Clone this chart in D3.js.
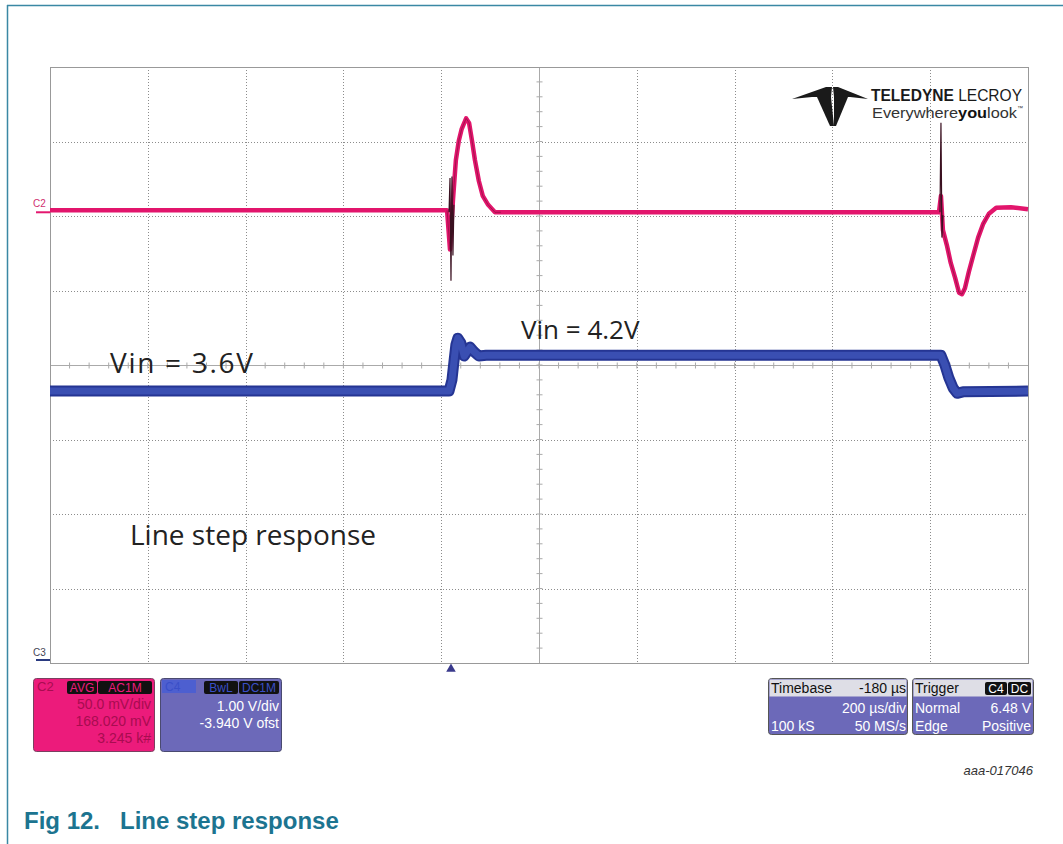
<!DOCTYPE html>
<html>
<head>
<meta charset="utf-8">
<script src="https://cdn.jsdelivr.net/npm/d3@7"></script>
<style>
  body { margin: 0; background: #fff; }
  svg { display: block; font-family: "Liberation Sans", Arial, sans-serif; }
</style>
</head>
<body>
<div id="scope"></div>
<script>
// timebase: 200 us/div, trigger delay -180 us, 10 divisions
const timeDiv = 200;
const timeDelay = -180;

// C2 (pink), AC coupled, mV, 50 mV/div
const c2Time = [-820, -8, -2, 4, 10, 16, 22, 31, 37, 43, 49, 57, 65, 76, 90, 102,
  998, 1002, 1006, 1014, 1022, 1031, 1039, 1045, 1051, 1059, 1068, 1078, 1088, 1100, 1115, 1145, 1180];
const c2Volt = [1.3, 1.3, -25, 8, 35, 48, 56, 63, 60, 48, 35, 21, 11, 5, 0, 0,
  0, 11, -12, -22, -34, -44, -54, -55, -51, -40, -29, -17, -8, -1, 3, 3.4, 2];
// thin dark overshoot spikes on C2
const c2SpikeTime = [-4, -2, 0, 2, 4, 6, 1000, 1002, 1004, 1006];
const c2SpikeVolt = [0, 23, -46, 24, -29, 5, 0, 60, -17, -2];

// C4 (blue), V, 1 V/div, -3.94 V offset
const c4Time = [-820, -4, 2, 6, 10, 14, 20, 27, 33, 39, 47, 57, 72, 1002, 1010, 1018, 1027, 1035, 1047, 1180];
const c4Volt = [3.59, 3.59, 3.74, 3.98, 4.21, 4.30, 4.24, 4.06, 4.12, 4.18, 4.12, 4.06, 4.07, 4.07, 3.94, 3.77, 3.63, 3.56, 3.58, 3.59];

const c2VDiv = 0.05 * 1000, c2Pos = 2.05;
const c4VDiv = 1.0, c4Ofst = -3.94;

const width = 1063, height = 844;
const svg = d3.select("#scope").append("svg")
  .attr("width", width).attr("height", height);

// page frame
svg.append("line").attr("x1", 7.5).attr("x2", 7.5).attr("y1", 5).attr("y2", height)
  .attr("stroke", "#3a88a4").attr("stroke-width", 1.5);
svg.append("line").attr("x1", 7).attr("x2", width).attr("y1", 5.5).attr("y2", 5.5)
  .attr("stroke", "#3a88a4").attr("stroke-width", 1.5);

const pLeft = 50, pRight = 1028, pTop = 67, pBottom = 663;
const center = -timeDelay;
const x = d3.scaleLinear().domain([center - 5 * timeDiv, center + 5 * timeDiv]).range([pLeft, pRight]);
const y = d3.scaleLinear().domain([-4, 4]).range([pBottom, pTop]);

// grid
const grid = svg.append("g");
const vTicks = d3.range(1, 10).map(i => center - 5 * timeDiv + i * timeDiv).filter(t => t !== center);
const hTicks = [-3, -2, -1, 1, 2, 3];
grid.selectAll(".vg").data(vTicks).enter().append("line")
  .attr("x1", d => Math.round(x(d)) + 0.5).attr("x2", d => Math.round(x(d)) + 0.5)
  .attr("y1", pTop).attr("y2", pBottom)
  .attr("stroke", "#8c8c8c").attr("stroke-dasharray", "1,2");
grid.selectAll(".hg").data(hTicks).enter().append("line")
  .attr("x1", pLeft).attr("x2", pRight)
  .attr("y1", d => Math.round(y(d)) + 0.5).attr("y2", d => Math.round(y(d)) + 0.5)
  .attr("stroke", "#8c8c8c").attr("stroke-dasharray", "1,2");

// center axes with minor ticks
const cx = Math.round(x(center)) + 0.5, cy = Math.round(y(0)) + 0.5;
grid.append("line").attr("x1", cx).attr("x2", cx).attr("y1", pTop).attr("y2", pBottom).attr("stroke", "#aaa");
grid.append("line").attr("x1", pLeft).attr("x2", pRight).attr("y1", cy).attr("y2", cy).attr("stroke", "#aaa");
const minorX = d3.range(1, 50).map(i => center - 5 * timeDiv + i * timeDiv / 5);
const minorY = d3.range(1, 40).map(i => -4 + i / 5);
grid.selectAll(".mx").data(minorX).enter().append("line")
  .attr("x1", d => x(d)).attr("x2", d => x(d)).attr("y1", cy - 3).attr("y2", cy + 3).attr("stroke", "#aaa");
grid.selectAll(".my").data(minorY).enter().append("line")
  .attr("x1", cx - 3).attr("x2", cx + 3).attr("y1", d => y(d)).attr("y2", d => y(d)).attr("stroke", "#aaa");

grid.append("rect").attr("x", pLeft + 0.5).attr("y", pTop + 0.5)
  .attr("width", pRight - pLeft).attr("height", pBottom - pTop)
  .attr("fill", "none").attr("stroke", "#999");

// texts on the screen
const annot = svg.append("g").attr("font-family", "'Open Sans', Lato, sans-serif").attr("fill", "#222");
annot.append("text").attr("x", 110).attr("y", 373).attr("font-size", 28).attr("textLength", 143).text("Vin = 3.6V");
annot.append("text").attr("x", 521).attr("y", 339).attr("font-size", 26).text("Vin = 4.2V");
annot.append("text").attr("x", 130).attr("y", 545).attr("font-size", 28).text("Line step response");

// traces
const line = d3.line().x(d => x(d[0])).y(d => y(d[1]));
const c2 = c2Time.map((t, i) => [t, c2Pos + c2Volt[i] / c2VDiv]);
const c2s = c2SpikeTime.map((t, i) => [t, c2Pos + c2SpikeVolt[i] / c2VDiv]);
const c4 = c4Time.map((t, i) => [t, c4Volt[i] / c4VDiv + c4Ofst]);

svg.append("path").attr("d", line(c4)).attr("fill", "none")
  .attr("stroke", "#253593").attr("stroke-width", 11).attr("stroke-linejoin", "round");
svg.append("path").attr("d", line(c4)).attr("fill", "none")
  .attr("stroke", "#3a4fb2").attr("stroke-width", 7).attr("stroke-linejoin", "round");
svg.append("path").attr("d", line(c2)).attr("fill", "none")
  .attr("stroke", "#e2156c").attr("stroke-width", 4.5).attr("stroke-linejoin", "round");
svg.append("path").attr("d", line(c2.slice(1, 16))).attr("fill", "none")
  .attr("stroke", "#7a1038").attr("stroke-width", 1).attr("opacity", 0.6);
svg.append("path").attr("d", line(c2.slice(17, 30))).attr("fill", "none")
  .attr("stroke", "#7a1038").attr("stroke-width", 1).attr("opacity", 0.6);
svg.append("path").attr("d", line(c2s.slice(0, 6))).attr("fill", "none")
  .attr("stroke", "#3a1020").attr("stroke-width", 1.2);
svg.append("path").attr("d", line(c2s.slice(6))).attr("fill", "none")
  .attr("stroke", "#3a1020").attr("stroke-width", 1.2);

// channel markers on the left
svg.append("text").attr("x", 33).attr("y", 207).attr("font-size", 10).attr("fill", "#d0306f").text("C2");
svg.append("line").attr("x1", 36).attr("x2", pLeft).attr("y1", y(c2Pos)).attr("y2", y(c2Pos))
  .attr("stroke", "#e3186f").attr("stroke-width", 2);
svg.append("text").attr("x", 33).attr("y", 656).attr("font-size", 10).attr("fill", "#445").text("C3");
svg.append("line").attr("x1", 36).attr("x2", pLeft).attr("y1", 660).attr("y2", 660)
  .attr("stroke", "#2a3a80").attr("stroke-width", 2);

// trigger marker
svg.append("path").attr("d", d3.symbol(d3.symbolTriangle, 40)())
  .attr("transform", `translate(${x(0)},669)`).attr("fill", "#3a3a8c");

// logo
const logo = svg.append("g").attr("fill", "#1a1a1a");
logo.append("polygon").attr("points", "792,99 826,87 832,87 831,97 812,97");
logo.append("polygon").attr("points", "868,99 838,87 833,87 834,97 850,97");
logo.append("polygon").attr("points", "817,97 831,97 834,126 830,126");
logo.append("polygon").attr("points", "834,97 848,97 836,126 834,126");
const lt = logo.append("text").attr("x", 871).attr("y", 101).attr("font-size", 16)
  .attr("textLength", 151).attr("lengthAdjust", "spacingAndGlyphs");
lt.append("tspan").attr("font-weight", "bold").text("TELEDYNE ");
lt.append("tspan").text("LECROY");
const ev = logo.append("text").attr("x", 872).attr("y", 118).attr("font-size", 14)
  .attr("fill", "#333").attr("textLength", 145).attr("lengthAdjust", "spacingAndGlyphs");
ev.append("tspan").text("Everywhere");
ev.append("tspan").attr("font-weight", "bold").attr("fill", "#111").text("you");
ev.append("tspan").text("look");
logo.append("text").attr("x", 1017).attr("y", 110).attr("font-size", 6).attr("fill", "#333").text("™");

// info boxes
function tag(g, x0, y0, w, label, fill) {
  g.append("rect").attr("x", x0).attr("y", y0).attr("width", w).attr("height", 13).attr("rx", 2).attr("fill", "#111");
  g.append("text").attr("x", x0 + w / 2).attr("y", y0 + 11).attr("text-anchor", "middle")
    .attr("font-size", 12).attr("fill", fill).text(label);
}
const info = svg.append("g").attr("font-size", 14);

// C2 box
info.append("rect").attr("x", 33.5).attr("y", 678.5).attr("width", 121).attr("height", 73).attr("rx", 3)
  .attr("fill", "#ec1b7b").attr("stroke", "#7a4060");
info.append("text").attr("x", 37).attr("y", 691).attr("fill", "#a80c50").attr("font-size", 13).text("C2");
tag(info, 67, 681, 30, "AVG", "#ec1b7b");
tag(info, 98, 681, 54, "AC1M", "#ec1b7b");
["50.0 mV/div", "168.020 mV", "3.245 k#"].forEach((s, i) =>
  info.append("text").attr("x", 151).attr("y", 709 + i * 17).attr("text-anchor", "end")
    .attr("fill", "#a80c50").text(s));

// C4 box
info.append("rect").attr("x", 160.5).attr("y", 678.5).attr("width", 121).attr("height", 73).attr("rx", 3)
  .attr("fill", "#6c69b9").attr("stroke", "#4a4a70");
info.append("rect").attr("x", 162).attr("y", 680).attr("width", 34).attr("height", 13).attr("fill", "#4d5fd0");
info.append("text").attr("x", 165).attr("y", 691).attr("fill", "#3a4fc8").attr("font-size", 12).text("C4");
tag(info, 204, 681, 34, "BwL", "#3a4fc8");
tag(info, 239, 681, 40, "DC1M", "#3a4fc8");
["1.00 V/div", "-3.940 V ofst"].forEach((s, i) =>
  info.append("text").attr("x", 279).attr("y", 711 + i * 17).attr("text-anchor", "end")
    .attr("fill", "#fff").text(s));

// timebase box
info.append("rect").attr("x", 768.5).attr("y", 678.5).attr("width", 139).attr("height", 56).attr("rx", 3)
  .attr("fill", "#6c69b9").attr("stroke", "#555");
info.append("rect").attr("x", 769.5).attr("y", 679.5).attr("width", 137).attr("height", 17).attr("fill", "#dedee6");
info.append("text").attr("x", 771).attr("y", 693).attr("fill", "#111").text("Timebase");
info.append("text").attr("x", 906).attr("y", 693).attr("text-anchor", "end").attr("fill", "#111").text("-180 µs");
info.append("text").attr("x", 906).attr("y", 713).attr("text-anchor", "end").attr("fill", "#fff").text("200 µs/div");
info.append("text").attr("x", 771).attr("y", 731).attr("fill", "#fff").text("100 kS");
info.append("text").attr("x", 906).attr("y", 731).attr("text-anchor", "end").attr("fill", "#fff").text("50 MS/s");

// trigger box
info.append("rect").attr("x", 912.5).attr("y", 678.5).attr("width", 121).attr("height", 56).attr("rx", 3)
  .attr("fill", "#6c69b9").attr("stroke", "#555");
info.append("rect").attr("x", 913.5).attr("y", 679.5).attr("width", 119).attr("height", 17).attr("fill", "#dedee6");
info.append("text").attr("x", 915).attr("y", 693).attr("fill", "#111").text("Trigger");
tag(info, 985, 682, 22, "C4", "#fff");
tag(info, 1008, 682, 23, "DC", "#fff");
info.append("text").attr("x", 915).attr("y", 713).attr("fill", "#fff").text("Normal");
info.append("text").attr("x", 1031).attr("y", 713).attr("text-anchor", "end").attr("fill", "#fff").text("6.48 V");
info.append("text").attr("x", 915).attr("y", 731).attr("fill", "#fff").text("Edge");
info.append("text").attr("x", 1031).attr("y", 731).attr("text-anchor", "end").attr("fill", "#fff").text("Positive");

// document id and caption
svg.append("text").attr("x", 1033).attr("y", 775).attr("text-anchor", "end")
  .attr("font-size", 13).attr("font-style", "italic").attr("fill", "#333").text("aaa-017046");
const cap = svg.append("g").attr("font-size", 24).attr("font-weight", "bold").attr("fill", "#1c7490");
cap.append("text").attr("x", 24).attr("y", 829).text("Fig 12.");
cap.append("text").attr("x", 120).attr("y", 829).text("Line step response");
</script>
</body>
</html>
